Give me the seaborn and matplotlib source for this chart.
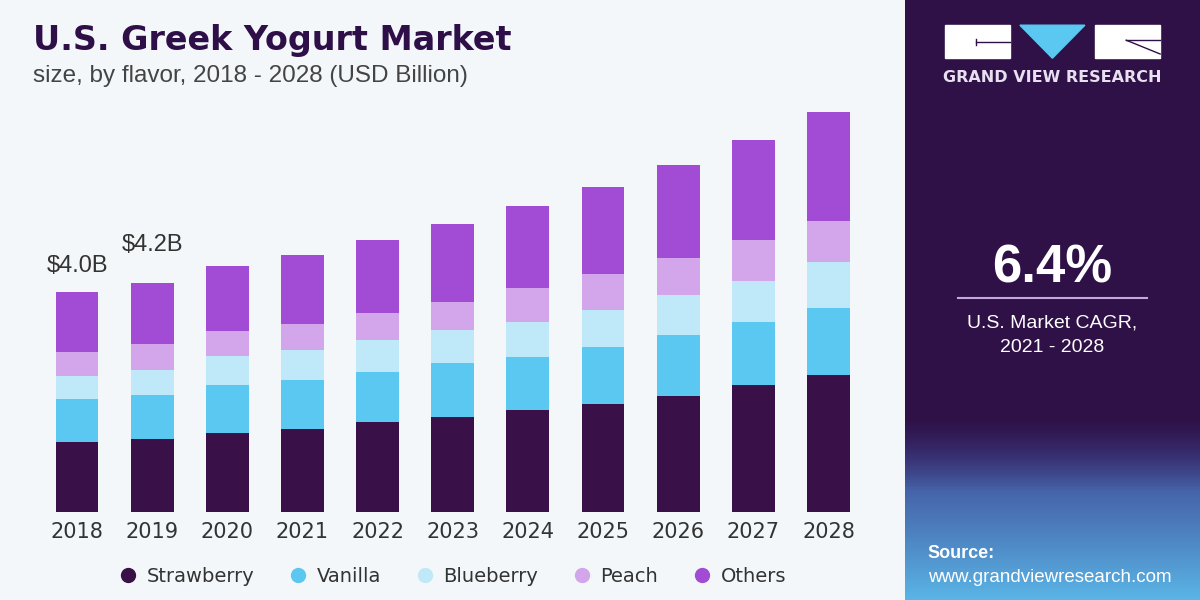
import numpy as np
import pandas as pd
import seaborn as sns
import matplotlib.pyplot as plt
from matplotlib.lines import Line2D
from matplotlib.patches import Rectangle, Polygon

years = ["2018", "2019", "2020", "2021", "2022", "2023", "2024", "2025", "2026", "2027", "2028"]
strawberry = [1.28, 1.33, 1.44, 1.52, 1.64, 1.74, 1.86, 1.97, 2.12, 2.32, 2.50]
vanilla = [0.79, 0.80, 0.88, 0.89, 0.91, 0.99, 0.97, 1.04, 1.11, 1.15, 1.22]
blueberry = [0.42, 0.47, 0.53, 0.55, 0.60, 0.60, 0.64, 0.68, 0.73, 0.75, 0.84]
peach = [0.44, 0.46, 0.46, 0.47, 0.49, 0.51, 0.62, 0.66, 0.68, 0.75, 0.75]
others = [1.08, 1.13, 1.19, 1.26, 1.33, 1.42, 1.50, 1.59, 1.70, 1.83, 1.99]
value_labels = {"2018": "$4.0B", "2019": "$4.2B"}

flavors = ["Strawberry", "Vanilla", "Blueberry", "Peach", "Others"]
colors = ["#3a1048", "#5bc8f2", "#bfe8f8", "#d3a5ea", "#a24cd5"]

df = pd.DataFrame({"Year": years, "Strawberry": strawberry, "Vanilla": vanilla,
                   "Blueberry": blueberry, "Peach": peach, "Others": others})
cum = df[flavors].cumsum(axis=1)

bg = "#f3f7fa"
fig = plt.figure(figsize=(12, 6), dpi=100, facecolor=bg)
ax = fig.add_axes([0.0266, 0.1467, 0.7014, 0.73])
ax.set_facecolor(bg)

# stacked bars: draw cumulative totals from top layer down
for name, col in reversed(list(zip(flavors, colors))):
    sns.barplot(x=df["Year"], y=cum[name], color=col, width=0.57,
                linewidth=0, saturation=1, ax=ax)

ax.set_xlim(-0.6, 10.6)
ax.set_ylim(0, 8)
ax.set_xlabel("")
ax.set_ylabel("")
ax.set_yticks([])
for s in ax.spines.values():
    s.set_visible(False)
ax.tick_params(axis="x", length=0, pad=7, labelsize=15, labelcolor="#333333")

totals = cum["Others"]
label_gap = {"2018": 0.28, "2019": 0.48}
for i, y in enumerate(years):
    if y in value_labels:
        ax.text(i, totals[i] + label_gap[y], value_labels[y], ha="center", va="bottom",
                fontsize=17, color="#333333", family="Liberation Sans")

fig.text(0.0275, 0.933, "U.S. Greek Yogurt Market", fontsize=24, fontweight="heavy",
         color="#2e0f47", va="center", family="DejaVu Sans")
fig.text(0.0275, 0.873, "size, by flavor, 2018 - 2028 (USD Billion)", fontsize=17.5,
         color="#444444", va="center", family="Liberation Sans")

handles = [Line2D([], [], marker="o", linestyle="", markersize=10,
                  markerfacecolor=c, markeredgecolor=c) for c in colors]
fig.legend(handles, flavors, loc="center", bbox_to_anchor=(0.377, 0.04), ncol=5,
           frameon=False, fontsize=14, handletextpad=0.45, columnspacing=1.75,
           handlelength=1.0, labelcolor="#333333")

# right panel
pan = fig.add_axes([0.754, 0, 0.246, 1])
pan.set_xlim(0, 1)
pan.set_ylim(0, 1)
pan.axis("off")
grad = np.zeros((200, 1, 3))
top = np.array([0x2f, 0x11, 0x47]) / 255
mid = np.array([0x3c, 0x3c, 0x8c]) / 255
bot = np.array([0x5a, 0xb4, 0xe6]) / 255
for r in range(200):
    t = r / 199  # 0 at bottom
    if t > 0.3:
        grad[r, 0] = top
    else:
        u = t / 0.3
        grad[r, 0] = bot * (1 - u) ** 1.2 + mid * (1 - (1 - u) ** 1.2)
        if u > 0.6:
            w = (u - 0.6) / 0.4
            grad[r, 0] = grad[r, 0] * (1 - w) + top * w
pan.imshow(grad, extent=[0, 1, 0, 1], origin="lower", aspect="auto")

# logo
pan.add_patch(Rectangle((0.135, 0.903), 0.22, 0.055, color="white"))
pan.add_patch(Polygon([(0.39, 0.958), (0.61, 0.958), (0.5, 0.903)], color="#5bc8f2"))
pan.add_patch(Rectangle((0.645, 0.903), 0.22, 0.055, color="white"))
pan.plot([0.24, 0.355], [0.93, 0.93], color="#2f1147", lw=1)
pan.plot([0.24, 0.24], [0.925, 0.935], color="#2f1147", lw=1)
pan.plot([0.75, 0.865], [0.933, 0.933], color="#2f1147", lw=1)
pan.plot([0.75, 0.865], [0.933, 0.91], color="#2f1147", lw=1)
pan.text(0.5, 0.87, "GRAND VIEW RESEARCH", color="#e8e0f0", fontsize=11.5,
         fontweight="bold", ha="center", va="center")

pan.text(0.5, 0.553, "6.4%", color="white", fontsize=38, fontweight="bold",
         ha="center", va="center", family="Liberation Sans")
pan.plot([0.18, 0.82], [0.503, 0.503], color="#c9a5e0", lw=1.5)
pan.text(0.5, 0.462, "U.S. Market CAGR,", color="white", fontsize=14,
         ha="center", va="center", family="Liberation Sans")
pan.text(0.5, 0.42, "2021 - 2028", color="white", fontsize=14,
         ha="center", va="center", family="Liberation Sans")

pan.text(0.078, 0.078, "Source:", color="white", fontsize=13, fontweight="bold",
         ha="left", va="center", family="Liberation Sans")
pan.text(0.078, 0.038, "www.grandviewresearch.com", color="white", fontsize=13.5,
         ha="left", va="center", family="Liberation Sans")

fig.savefig("out.png", dpi=100, facecolor=bg)
